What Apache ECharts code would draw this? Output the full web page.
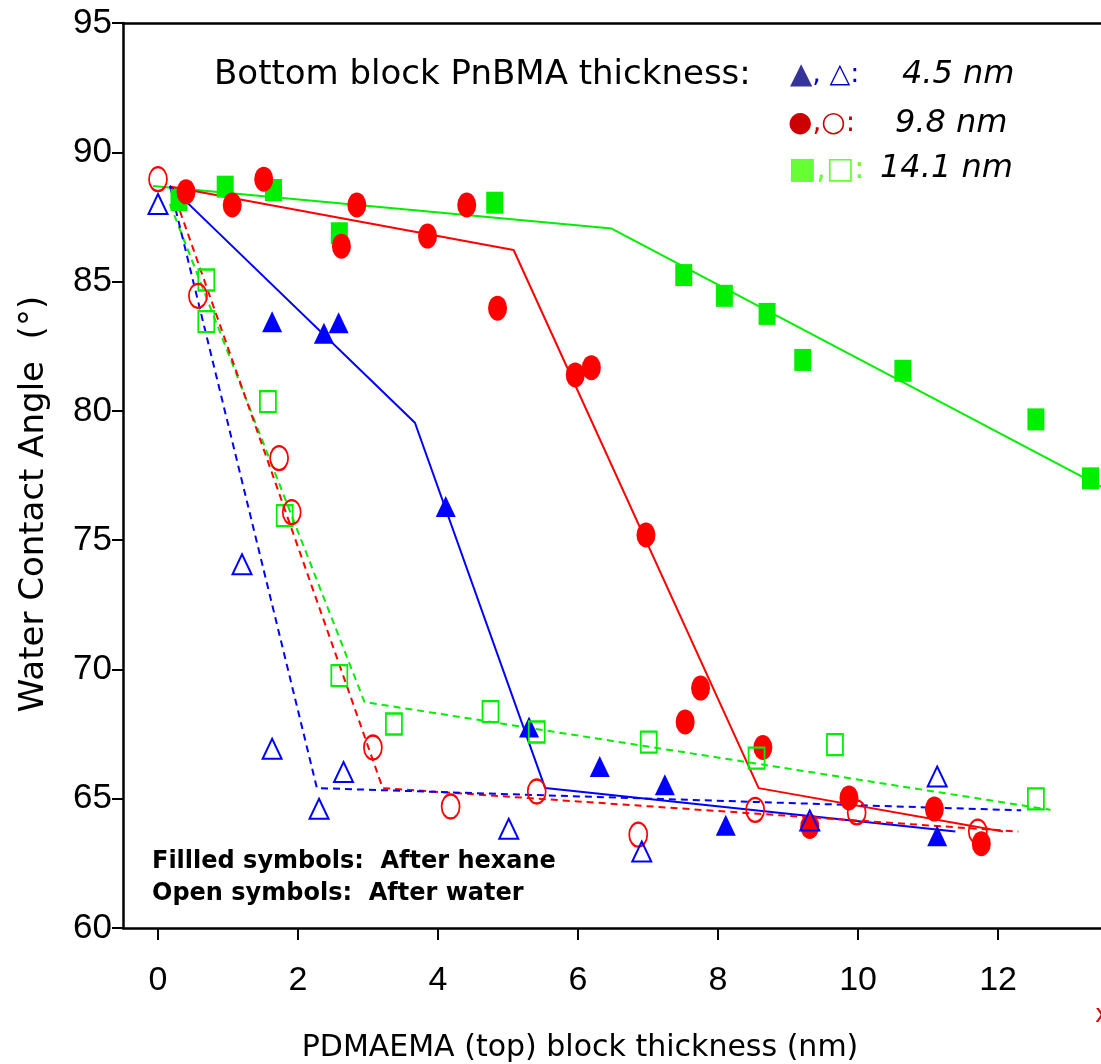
<!DOCTYPE html>
<html>
<head>
<meta charset="utf-8">
<script src="https://cdn.jsdelivr.net/npm/echarts@6/dist/echarts.min.js"></script>
<style>
  html, body { margin: 0; padding: 0; background: #fff; }
  #chart { width: 1101px; height: 1064px; }
</style>
</head>
<body>
<div id="chart"></div>
<script>
// tick labels
var xTicks = [0, 2, 4, 6, 8, 10, 12];

// 4.5 nm PnBMA: filled = after hexane, open = after water
var blueHexane = [[1.63, 83.45], [2.37, 83.0], [2.58, 83.41], [4.11, 76.3], [5.30, 67.77],
    [6.31, 66.25], [7.24, 65.54], [8.11, 63.97], [11.13, 63.57]];
var blueWater = [[0, 88.0], [1.2, 74.07], [1.63, 66.93], [2.30, 64.61], [2.65, 66.03],
    [5.01, 63.84], [6.91, 62.96], [9.31, 64.16], [11.13, 65.86]];

// 9.8 nm
var redHexane = [[0.40, 88.47], [1.06, 87.96], [1.51, 88.96], [2.62, 86.37], [2.84, 87.96],
    [3.85, 86.76], [4.41, 87.96], [4.85, 83.97], [5.96, 81.39], [6.19, 81.67], [6.97, 75.2],
    [7.53, 67.97], [7.75, 69.28], [8.64, 66.98], [9.31, 63.93], [9.87, 65.03], [11.09, 64.6],
    [11.76, 63.26]];
var redWater = [[0, 88.96], [0.57, 84.45], [1.73, 78.17], [1.91, 76.08], [3.07, 66.98],
    [4.18, 64.7], [5.41, 65.28], [6.86, 63.61], [8.53, 64.57], [9.98, 64.47], [11.71, 63.73]];

// 14.1 nm
var greenHexane = [[0.30, 88.15], [0.96, 88.67], [1.65, 88.54], [2.59, 86.87], [4.81, 88.05],
    [7.51, 85.25], [8.09, 84.45], [8.70, 83.75], [9.21, 81.97], [10.64, 81.55], [12.54, 79.67],
    [13.32, 77.39]];
var greenWater = [[0.69, 85.06], [0.69, 83.45], [1.57, 80.36], [1.81, 75.95], [2.59, 69.76],
    [3.37, 67.89], [4.75, 68.37], [5.41, 67.58], [7.01, 67.19], [8.55, 66.57], [9.67, 67.09],
    [12.54, 64.99]];

// guide lines (solid = hexane, dashed = water)
var blueFit = [[0.17, 88.7], [3.67, 79.54], [5.53, 65.41], [11.39, 63.73]];
var redFit = [[0.17, 88.68], [5.08, 86.22], [8.58, 65.41], [12.07, 63.73]];
var greenFit = [[-0.07, 88.7], [6.48, 87.05], [13.47, 77.07]];
var blueWaterFit = [[0.17, 88.7], [2.27, 65.41], [12.33, 64.55]];
var redWaterFit = [[0.2, 88.6], [3.21, 65.41], [12.29, 63.73]];
var greenWaterFit = [[0.17, 88.0], [2.95, 68.74], [12.75, 64.57]];

var BLUE = '#0000ff', RED = '#ff0000', GREEN = '#00ee00';

function fitLine(data, color, dashed) {
    return {
        type: 'line', data: data, symbol: 'none', z: 2, silent: true,
        lineStyle: { color: color, width: 2, type: dashed ? [7, 5] : 'solid' }
    };
}

function filled(data, symbol, size, color) {
    return {
        type: 'scatter', data: data, symbol: symbol, symbolSize: size, z: 3,
        itemStyle: { color: color, opacity: 1 }
    };
}

function open(data, symbol, size, color) {
    return {
        type: 'scatter', data: data, symbol: symbol, symbolSize: size, z: 3,
        itemStyle: { color: 'rgba(0,0,0,0)', borderColor: color, borderWidth: 2, opacity: 1 }
    };
}

// plain text helper, x/y = left edge and vertical middle
function label(x, y, text, size, extra) {
    var style = { text: text, fontFamily: 'DejaVu Sans', fontSize: size, fill: '#000',
        verticalAlign: 'middle' };
    for (var k in extra) style[k] = extra[k];
    return { type: 'text', x: x, y: y, style: style };
}

var myChart = echarts.init(document.getElementById('chart'));

var option = {
    animation: false,
    backgroundColor: '#fff',
    grid: { left: 123, right: 0, top: 23, bottom: 136 },
    xAxis: [{
        type: 'value', min: -0.5, max: 13.47,
        splitLine: { show: false },
        axisLine: { onZero: false, lineStyle: { color: '#000', width: 2.5 } },
        axisTick: { customValues: xTicks, length: 12, lineStyle: { color: '#000', width: 2 } },
        axisLabel: {
            customValues: xTicks, margin: 36, color: '#000',
            fontFamily: 'Liberation Sans', fontSize: 34
        }
    }, {
        // top frame line
        type: 'value', position: 'top', min: -0.5, max: 13.47,
        splitLine: { show: false }, axisTick: { show: false }, axisLabel: { show: false },
        axisLine: { onZero: false, lineStyle: { color: '#000', width: 2.5 } }
    }],
    yAxis: {
        type: 'value', min: 60, max: 95, interval: 5,
        splitLine: { show: false },
        axisLine: { onZero: false, lineStyle: { color: '#000', width: 2.5 } },
        axisTick: { length: 11, lineStyle: { color: '#000', width: 2 } },
        axisLabel: { margin: 11, color: '#000', fontFamily: 'Liberation Sans', fontSize: 35 }
    },
    series: [
        fitLine(greenFit, GREEN, false),
        fitLine(redFit, RED, false),
        fitLine(blueFit, BLUE, false),
        fitLine(greenWaterFit, GREEN, true),
        fitLine(redWaterFit, RED, true),
        fitLine(blueWaterFit, BLUE, true),
        filled(greenHexane, 'rect', [17, 22], GREEN),
        filled(redHexane, 'circle', [19, 25], RED),
        filled(blueHexane, 'triangle', [20, 21], BLUE),
        open(greenWater, 'rect', [16, 21], GREEN),
        open(redWater, 'circle', [18, 24], RED),
        open(blueWater, 'triangle', [19, 20], BLUE)
    ],
    graphic: [
        label(214, 75, 'Bottom block PnBMA thickness:', 34),
        {
            type: 'text', x: 790, y: 75,
            style: {
                text: '{a|▲}{b|, △:}', verticalAlign: 'middle',
                rich: {
                    a: { fill: '#333399', fontSize: 29, fontFamily: 'DejaVu Sans' },
                    b: { fill: '#0000cc', fontSize: 27, fontFamily: 'DejaVu Sans' }
                }
            }
        },
        label(902, 75, '4.5 nm', 32, { fontStyle: 'italic' }),
        label(788, 124, '●,○:', 28, { fill: '#cc0000' }),
        label(895, 124, '9.8 nm', 32, { fontStyle: 'italic' }),
        label(788, 170, '■,□:', 30, { fill: '#66ff33' }),
        label(880, 169, '14.1 nm', 32, { fontStyle: 'italic' }),
        label(152, 862, 'Fillled symbols:  After hexane', 24, { fontWeight: 'bold' }),
        label(152, 894, 'Open symbols:  After water', 24, { fontWeight: 'bold' }),
        {
            // x axis title
            type: 'text', x: 580, y: 1048,
            style: { text: 'PDMAEMA (top) block thickness (nm)', fontFamily: 'DejaVu Sans', fontSize: 30,
                fill: '#000', align: 'center', verticalAlign: 'middle' }
        },
        {
            // y axis title
            type: 'text', x: 34, y: 504, rotation: Math.PI / 2,
            style: { text: 'Water Contact Angle  (°)', fontFamily: 'DejaVu Sans', fontSize: 34,
                fill: '#000', align: 'center', verticalAlign: 'middle' }
        },
        label(1095, 1016, 'x', 24, { fill: '#dd0000' })
    ]
};

myChart.setOption(option);
</script>
</body>
</html>
